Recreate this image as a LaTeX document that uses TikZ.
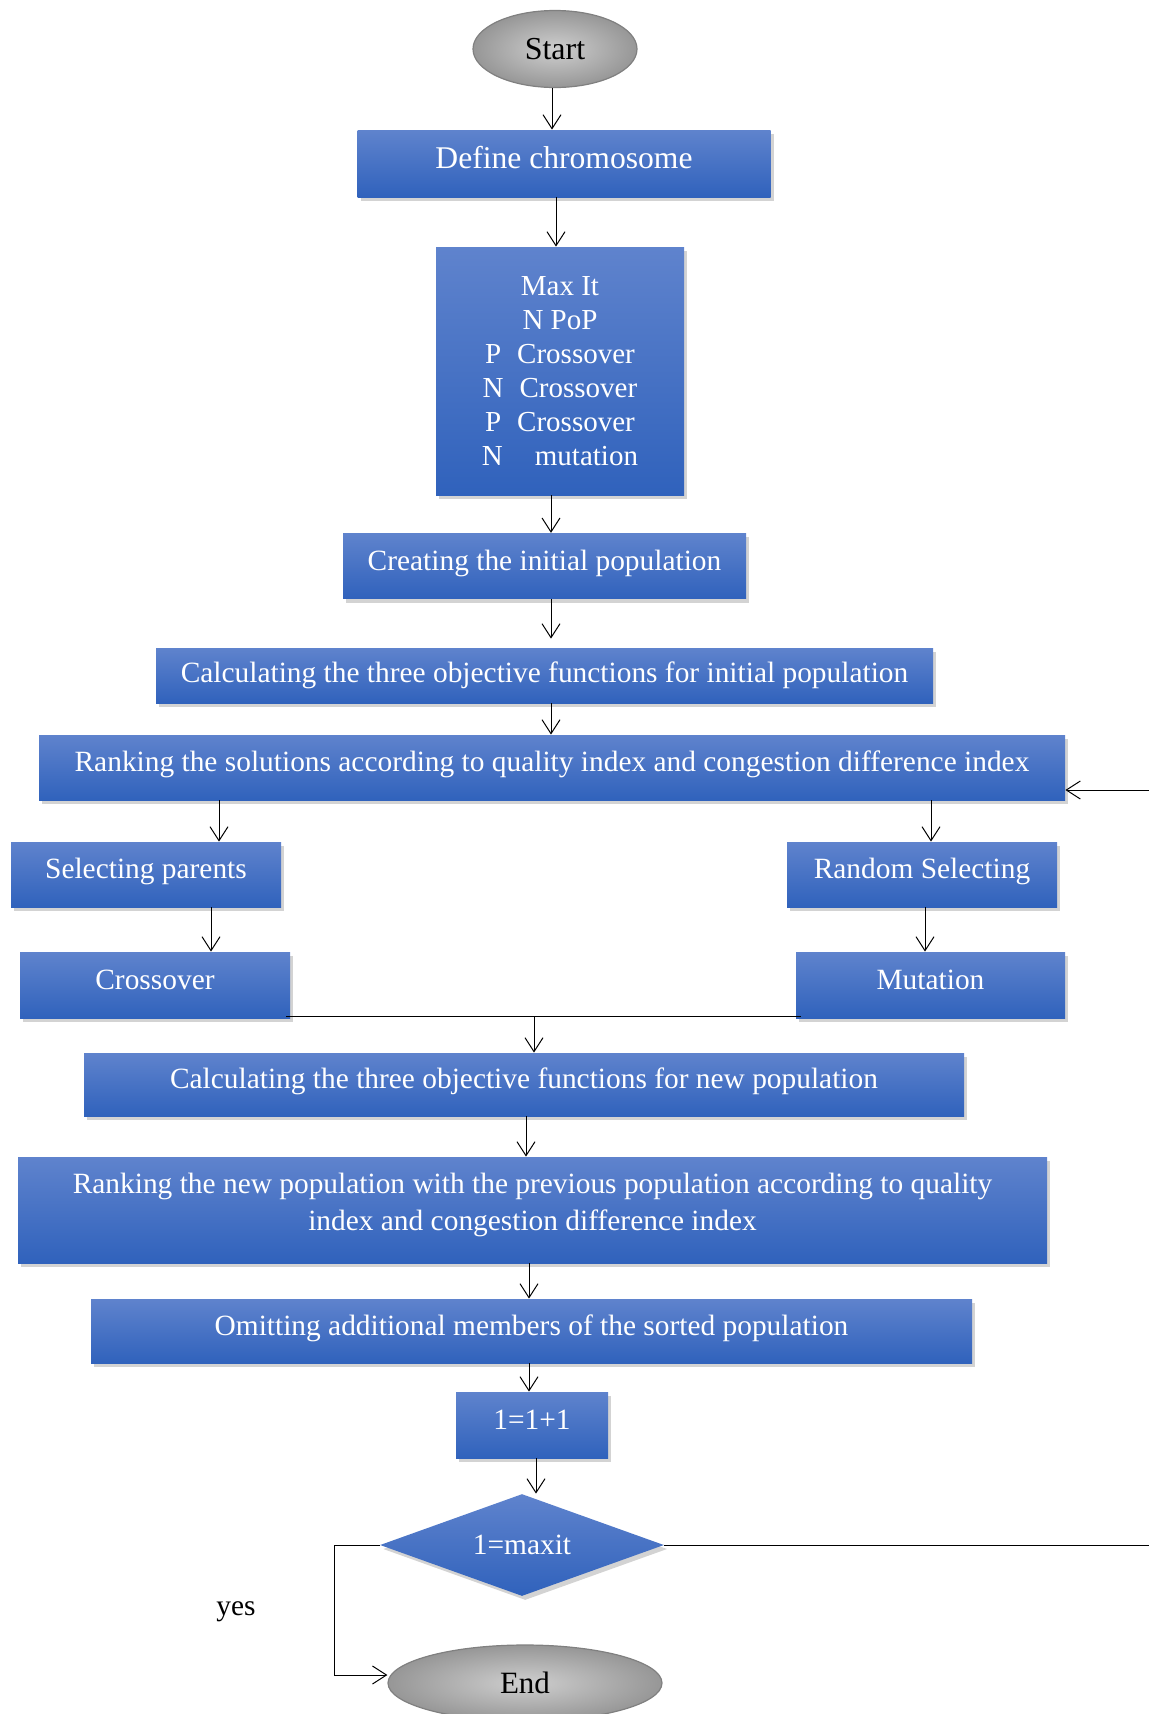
\documentclass[tikz,border=0pt]{standalone}
\usepackage{fontspec}
\setmainfont{Liberation Serif}
\usetikzlibrary{shapes.geometric,shadows,arrows.meta}
\definecolor{bluetop}{RGB}{95,131,205}
\definecolor{bluebot}{RGB}{48,98,188}
\definecolor{termedge}{RGB}{128,128,128}
\tikzset{
  box/.style={rectangle, top color=bluetop, bottom color=bluebot, text=white,
    align=center, inner sep=2pt, font=\fontsize{14.7}{18.5}\selectfont,
    drop shadow={shadow xshift=1.6pt, shadow yshift=-2pt, opacity=0.35}},
  one/.style={text height=10pt, text depth=6pt},
  term/.style={ellipse, draw=termedge, line width=0.6pt, inner color=gray!38, outer color=gray!82,
    inner sep=0pt, font=\fontsize{16}{18}\selectfont},
  decide/.style={diamond, aspect=2.8, top color=bluetop, bottom color=bluebot, text=white, inner sep=0pt,
    font=\fontsize{14.7}{17}\selectfont,
    drop shadow={shadow xshift=1.6pt, shadow yshift=-2pt, opacity=0.35}},
  arr/.style={-{Straight Barb[length=7pt,width=9pt]}, line width=0.5pt},
  ln/.style={line width=0.5pt},
}
\begin{document}
\begin{tikzpicture}[x=0.5pt,y=-0.5pt]
\useasboundingbox (0,0) rectangle (1148,1714);
% nodes
\node[term, minimum width=82pt, minimum height=38.5pt] (start) at (555,49) {Start};
\node[box, text height=10pt, text depth=5.5pt, minimum width=206.5pt, minimum height=33.5pt, font=\fontsize{15.8}{18}\selectfont] (define) at (564,163.5) {Define chromosome};
\node[box, minimum width=124pt, minimum height=124pt, font=\fontsize{14.5}{17}\selectfont] (params) at (560,371)
  {Max It\\N PoP\\P\hspace{8pt}Crossover\\N\hspace{8pt}Crossover\\P\hspace{8pt}Crossover\\N\hspace{16pt}mutation};
\node[box, one, minimum width=201.5pt, minimum height=32.75pt] (creating) at (544.5,566) {Creating the initial population};
\node[box, minimum width=388.5pt, minimum height=27.5pt] (calc1) at (544.5,675.5) {Calculating the three objective functions for initial population};
\node[box, one, minimum width=513pt, minimum height=32.5pt] (rank1) at (552,767.5) {Ranking the solutions according to quality index and congestion difference index};
\node[box, one, minimum width=135pt, minimum height=32.5pt] (sel) at (146,874.5) {Selecting parents};
\node[box, one, minimum width=135pt, minimum height=33pt] (cross) at (155,985) {Crossover};
\node[box, one, minimum width=135pt, minimum height=32.5pt] (rand) at (922,874.5) {Random Selecting};
\node[box, one, minimum width=134.5pt, minimum height=33pt] (mut) at (930.5,985) {Mutation};
\node[box, one, minimum width=440pt, minimum height=31.5pt] (calc2) at (524,1084.5) {Calculating the three objective functions for new population};
\node[box, minimum width=514.5pt, minimum height=53pt] (rank2) at (532.5,1210) {Ranking the new population with the previous population according to quality\\index and congestion difference index\rule[-8pt]{0pt}{0pt}};
\node[box, one, minimum width=440.5pt, minimum height=32pt] (omit) at (531.5,1331) {Omitting additional members of the sorted population};
\node[box, one, minimum width=76pt, minimum height=33pt] (incr) at (532,1425) {1=1+1};
\node[decide, minimum width=142pt, minimum height=51pt] (dia) at (522,1545) {1=maxit};
\node[term, minimum width=137pt, minimum height=38pt, font=\fontsize{15.5}{18}\selectfont] (end) at (525,1683) {End};
\node[font=\fontsize{14.7}{17}\selectfont] (yes) at (236,1612) {yes};
% connectors
\draw[arr] (start.south -| 552,0) -- (define.north -| 552,0);
\draw[arr] (define.south -| 556,0) -- (params.north -| 556,0);
\draw[arr] (params.south -| 551,0) -- (creating.north -| 551,0);
\draw[arr] (creating.south -| 551,0) -- ([yshift=4.5pt]calc1.north -| 551,0);
\draw[arr] (calc1.south -| 551,0) -- (rank1.north -| 551,0);
\draw[arr] (rank1.south -| 219,0) -- (sel.north -| 219,0);
\draw[arr] (sel.south -| 211,0) -- (cross.north -| 211,0);
\draw[arr] (rank1.south -| 931,0) -- (rand.north -| 931,0);
\draw[arr] (rand.south -| 925,0) -- (mut.north -| 925,0);
\draw[ln] ([shift={(-4,-2)}]cross.south east) -- ([shift={(5,-2)}]mut.south west);
\coordinate (mrg) at (534,1016);
\draw[arr] (mrg) -- (calc2.north -| mrg);
\draw[arr] (calc2.south -| 526,0) -- (rank2.north -| 526,0);
\draw[arr] (rank2.south -| 529,0) -- (omit.north -| 529,0);
\draw[arr] (omit.south -| 529,0) -- (incr.north -| 529,0);
\draw[arr] (incr.south -| 536,0) -- (dia.north -| 536,0);
\draw[arr] (dia.west) -- (334,1545) |- ([yshift=4pt]end.west);
\draw[arr] (dia.east) -- (1175,1545) |- ([yshift=-11.25pt]rank1.east);
\end{tikzpicture}
\end{document}
